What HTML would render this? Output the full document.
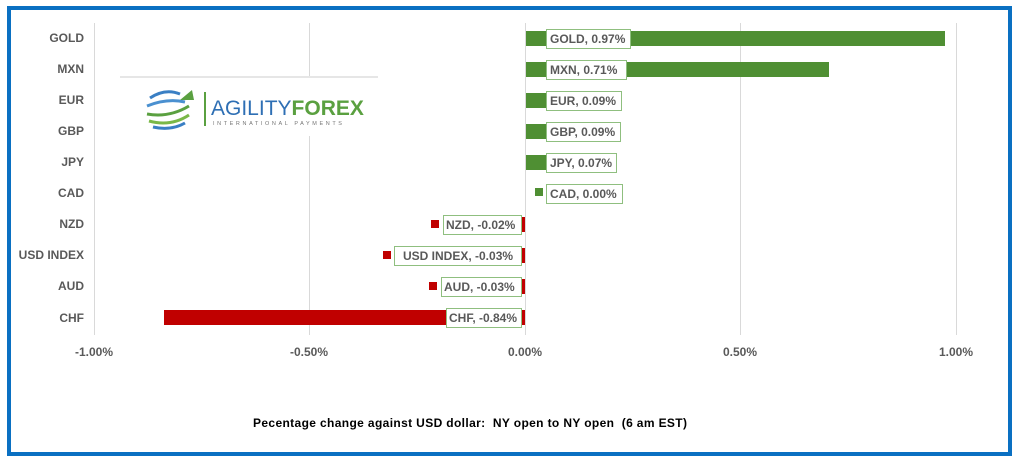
<!DOCTYPE html>
<html><head><meta charset="utf-8"><style>
html,body{margin:0;padding:0;background:#fff;}
svg{display:block;font-family:"Liberation Sans",Arial,sans-serif;}
.cat{font-size:12px;font-weight:bold;fill:#595959;text-anchor:end;}
.lab{font-size:12px;font-weight:bold;fill:#595959;}
.ax{font-size:12px;font-weight:bold;fill:#595959;text-anchor:middle;}
</style></head><body>
<svg width="1024" height="460" viewBox="0 0 1024 460" xmlns="http://www.w3.org/2000/svg">
<rect x="0" y="0" width="1024" height="460" fill="#fff"/>
<rect x="9" y="8" width="1001" height="446" fill="none" stroke="#0a70c2" stroke-width="4"/>
<g stroke="#d9d9d9" stroke-width="1">
<line x1="94.5" y1="23" x2="94.5" y2="335"/>
<line x1="309.5" y1="23" x2="309.5" y2="335"/>
<line x1="525.5" y1="23" x2="525.5" y2="335"/>
<line x1="740.5" y1="23" x2="740.5" y2="335"/>
<line x1="956.5" y1="23" x2="956.5" y2="335"/>
</g>
<line x1="120" y1="77" x2="378" y2="77" stroke="#e6e6e6" stroke-width="2"/>
<rect x="120" y="78" width="258" height="58" fill="#fff"/>
<g fill="none" stroke-width="3">
<path d="M150 98 q15 -10 30 -4" stroke="#3a7fc4"/>
<path d="M147 106 q20 -8 38 -4" stroke="#4a90d0"/>
<path d="M147 114 q22 4 42 -8" stroke="#5aa040"/>
<path d="M149 121 q22 6 40 -6" stroke="#7ab848"/>
<path d="M153 127 q18 4 32 -4" stroke="#3a7fc4"/>
</g>
<path d="M180 100 l12 -10 l2 10 z" fill="#5aa040"/>
<line x1="205" y1="92" x2="205" y2="126" stroke="#5aa040" stroke-width="2"/>
<text x="211" y="115" font-size="21" fill="#2e6fb4">AGILITY<tspan fill="#5aa040" font-weight="bold">FOREX</tspan></text>
<text x="213" y="125" font-size="5.5" fill="#777" letter-spacing="2.6">INTERNATIONAL PAYMENTS</text>
<g class="cat">
<text x="84" y="42">GOLD</text>
<text x="84" y="73">MXN</text>
<text x="84" y="104">EUR</text>
<text x="84" y="135">GBP</text>
<text x="84" y="166">JPY</text>
<text x="84" y="197">CAD</text>
<text x="84" y="228">NZD</text>
<text x="84" y="259">USD INDEX</text>
<text x="84" y="290">AUD</text>
<text x="84" y="322">CHF</text>
</g>
<g fill="#4f8f33">
<rect x="526" y="31" width="419" height="15"/>
<rect x="526" y="62" width="303" height="15"/>
<rect x="526" y="93" width="21" height="15"/>
<rect x="526" y="124" width="21" height="15"/>
<rect x="526" y="155" width="21" height="15"/>
<rect x="535" y="188" width="8" height="8"/>
</g>
<g fill="#c00000">
<rect x="522" y="217" width="3" height="15"/>
<rect x="522" y="248" width="3" height="15"/>
<rect x="522" y="279" width="3" height="15"/>
<rect x="164" y="310" width="361" height="15"/>
<rect x="431" y="220" width="8" height="8"/>
<rect x="383" y="251" width="8" height="8"/>
<rect x="429" y="282" width="8" height="8"/>
</g>
<g fill="#fff" stroke="#8fbf7f" stroke-width="1">
<rect x="546.5" y="29.5" width="84" height="19"/>
<rect x="546.5" y="60.5" width="80" height="19"/>
<rect x="546.5" y="91.5" width="75" height="19"/>
<rect x="546.5" y="122.5" width="74" height="19"/>
<rect x="546.5" y="153.5" width="70" height="19"/>
<rect x="546.5" y="184.5" width="76" height="19"/>
<rect x="443.5" y="215.5" width="78" height="19"/>
<rect x="394.5" y="246.5" width="127" height="19"/>
<rect x="441.5" y="277.5" width="80" height="19"/>
<rect x="446.5" y="308.5" width="75" height="19"/>
</g>
<g class="lab">
<text x="550" y="43">GOLD, 0.97%</text>
<text x="550" y="74">MXN, 0.71%</text>
<text x="550" y="105">EUR, 0.09%</text>
<text x="550" y="136">GBP, 0.09%</text>
<text x="550" y="167">JPY, 0.07%</text>
<text x="550" y="198">CAD, 0.00%</text>
<text x="446" y="229">NZD, -0.02%</text>
<text x="403" y="260">USD INDEX, -0.03%</text>
<text x="444" y="291">AUD, -0.03%</text>
<text x="449" y="322">CHF, -0.84%</text>
</g>
<g class="ax">
<text x="94" y="356">-1.00%</text>
<text x="309" y="356">-0.50%</text>
<text x="525" y="356">0.00%</text>
<text x="740" y="356">0.50%</text>
<text x="956" y="356">1.00%</text>
</g>
<text x="253" y="427" font-size="12" font-weight="bold" fill="#000" textLength="434" lengthAdjust="spacing" xml:space="preserve" style="white-space:pre">Pecentage change against USD dollar:  NY open to NY open  (6 am EST)</text>
</svg>
</body></html>
